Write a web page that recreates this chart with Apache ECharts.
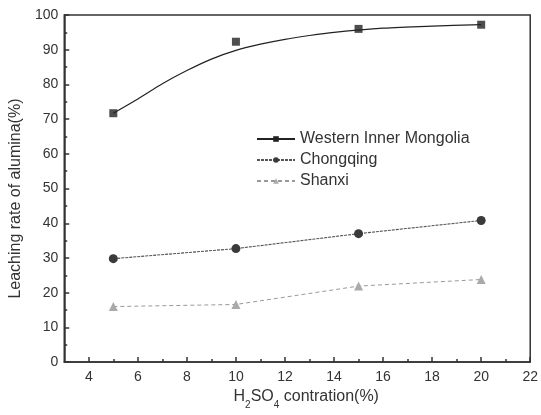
<!DOCTYPE html>
<html>
<head>
<meta charset="utf-8">
<script src="https://cdn.jsdelivr.net/npm/echarts@6/dist/echarts.min.js"></script>
<style>
html,body{margin:0;padding:0;background:#fff;}
#main{width:541px;height:415px;}
</style>
</head>
<body>
<div id="main"></div>
<script>
// Data
var concentrations = [5, 10, 15, 20];
var westernInnerMongolia = [71.7, 92.3, 96.0, 97.2];
var chongqing = [29.8, 32.7, 37.0, 40.8];
var shanxi = [16.0, 16.6, 21.9, 23.8];
// fitted curve of Western Inner Mongolia
var fitX = [5, 6, 7, 8, 9, 10, 11, 12, 13, 14, 16, 18, 20];
var fitY = [71.7, 75.8, 80.2, 84.0, 87.3, 89.8, 91.6, 93.0, 94.1, 95.0, 96.2, 96.8, 97.2];
var xMajorTicks = [4, 6, 8, 10, 12, 14, 16, 18, 20, 22];
var xMinorTicks = [5, 7, 9, 11, 13, 15, 17, 19, 21];
var seriesNames = ['Western Inner Mongolia', 'Chongqing', 'Shanxi'];

function pairs(xs, ys) { return xs.map(function (x, i) { return [x, ys[i]]; }); }

var font = 'Liberation Sans, Arial, Helvetica, sans-serif';
var chart = echarts.init(document.getElementById('main'), null, {renderer: 'canvas'});
chart.setOption({
  animation: false,
  backgroundColor: '#fff',
  grid: {left: 63, top: 15, right: 6, bottom: 51, show: true, borderColor: '#333', borderWidth: 1.5, backgroundColor: 'transparent'},
  legend: {
    data: seriesNames,
    orient: 'vertical',
    left: 256, top: 131, padding: 0,
    itemWidth: 38, itemHeight: 7, itemGap: 5,
    textStyle: {fontFamily: font, fontSize: 16, color: '#333'}
  },
  xAxis: [{
    type: 'value', min: 3, max: 22,
    splitLine: {show: false},
    axisLine: {show: true, onZero: false, lineStyle: {color: '#333', width: 1.5}},
    axisTick: {show: true, inside: true, length: 5, customValues: xMajorTicks, lineStyle: {color: '#333', width: 1.5}},
    axisLabel: {customValues: xMajorTicks, fontFamily: font, fontSize: 14, color: '#333', margin: 8},
    name: '{a|H}{s|2}{a|SO}{s|4}{a| contration(%)}',
    nameLocation: 'middle', nameGap: 26,
    nameTextStyle: {
      fontFamily: font, color: '#333', padding: [0, 0, 0, 18],
      rich: {
        a: {fontFamily: font, fontSize: 16, color: '#333', padding: [0, 0, 5, 0], verticalAlign: 'bottom'},
        s: {fontFamily: font, fontSize: 10, color: '#333', verticalAlign: 'bottom'}
      }
    }
  }, {
    type: 'value', min: 3, max: 22, position: 'bottom',
    splitLine: {show: false},
    axisLine: {show: false},
    axisTick: {show: true, inside: true, length: 3, customValues: xMinorTicks, lineStyle: {color: '#333', width: 1.5}},
    axisLabel: {show: false}
  }],
  yAxis: {
    type: 'value', min: 0, max: 100, interval: 10,
    splitLine: {show: false},
    axisLine: {show: true, lineStyle: {color: '#333', width: 1.5}},
    axisTick: {show: true, inside: true, length: 5, lineStyle: {color: '#333', width: 1.5}},
    minorTick: {show: true, splitNumber: 2, length: 3, lineStyle: {color: '#333', width: 1.5}},
    axisLabel: {fontFamily: font, fontSize: 14, color: '#333', margin: 6},
    name: 'Leaching rate of alumina(%)',
    nameLocation: 'middle', nameGap: 36,
    nameTextStyle: {fontFamily: font, fontSize: 16, color: '#333', padding: [0, 20, 0, 0]}
  },
  series: [{
    name: 'Western Inner Mongolia',
    type: 'line', smooth: 0.3,
    data: pairs(fitX, fitY),
    symbol: 'rect', symbolSize: 8, showSymbol: false,
    itemStyle: {color: '#222'},
    lineStyle: {color: '#222', width: 1.2, type: 'solid'}
  }, {
    name: 'WIM points',
    type: 'scatter',
    data: pairs(concentrations, westernInnerMongolia),
    symbol: 'rect', symbolSize: 8,
    itemStyle: {color: '#222'}
  }, {
    name: 'Chongqing',
    type: 'line',
    data: pairs(concentrations, chongqing),
    symbol: 'circle', symbolSize: 9, showSymbol: true,
    itemStyle: {color: '#3a3a3a'},
    lineStyle: {color: '#555', width: 1.1, type: [3, 1]}
  }, {
    name: 'Shanxi',
    type: 'line',
    data: pairs(concentrations, shanxi),
    symbol: 'triangle', symbolSize: 9, showSymbol: true,
    itemStyle: {color: '#aaa'},
    lineStyle: {color: '#999', width: 1, type: [4, 3]}
  }]
});
</script>
</body>
</html>
